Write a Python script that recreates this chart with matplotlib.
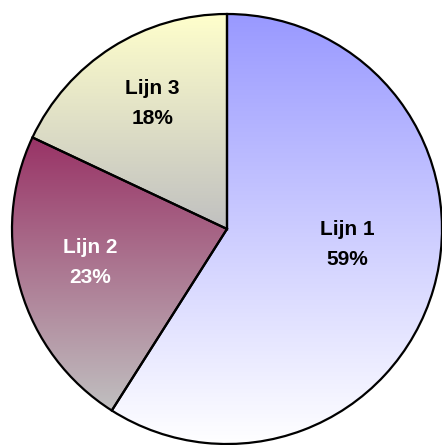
import numpy as np
import matplotlib
matplotlib.use("Agg")
import matplotlib.pyplot as plt
from matplotlib.colors import LinearSegmentedColormap

# Data
categories = ["Lijn 1", "Lijn 2", "Lijn 3"]
shares = [59, 23, 18]
top_colors = ["#9999FF", "#993366", "#FFFFCC"]
bottom_colors = ["#FFFFFF", "#C0C0C0", "#C0C0C0"]
text_colors = ["black", "white", "black"]
# label centres in axes fraction
label_pos = [(0.785, 0.450), (0.205, 0.410), (0.345, 0.768)]

W, H = 442, 445
fig = plt.figure(figsize=(W / 100, H / 100), dpi=100)
ax = fig.add_axes([0, 0, 1, 1])

cx, cy, r = 227, 216, 215
wedges, _ = ax.pie(shares, startangle=90, counterclock=False,
                   radius=r, center=(cx, cy), frame=False,
                   wedgeprops=dict(facecolor="none", edgecolor="black",
                                   linewidth=1.6, zorder=3))

for w, c_top, c_bot in zip(wedges, top_colors, bottom_colors):
    th = np.radians(np.linspace(w.theta1, w.theta2, 400))
    ys = np.concatenate([[cy], cy + r * np.sin(th)])
    xs = np.concatenate([[cx], cx + r * np.cos(th)])
    cmap = LinearSegmentedColormap.from_list("g", [c_bot, c_top])
    grad = np.linspace(0, 1, 256).reshape(-1, 1)
    im = ax.imshow(grad, cmap=cmap, origin="lower", aspect="auto",
                   extent=(xs.min(), xs.max(), ys.min(), ys.max()),
                   interpolation="bilinear", zorder=1)
    im.set_clip_path(w)

for cat, val, (px, py), tc in zip(categories, shares, label_pos, text_colors):
    ax.text(px, py, f"{cat}\n{val}%", transform=ax.transAxes,
            ha="center", va="center", fontsize=15, fontweight="bold",
            family="Liberation Sans", color=tc, linespacing=1.75, zorder=4)

ax.set_xlim(0, W)
ax.set_ylim(0, H)
ax.set_aspect("auto")
ax.axis("off")
fig.savefig("out.png", dpi=100, facecolor="white")
